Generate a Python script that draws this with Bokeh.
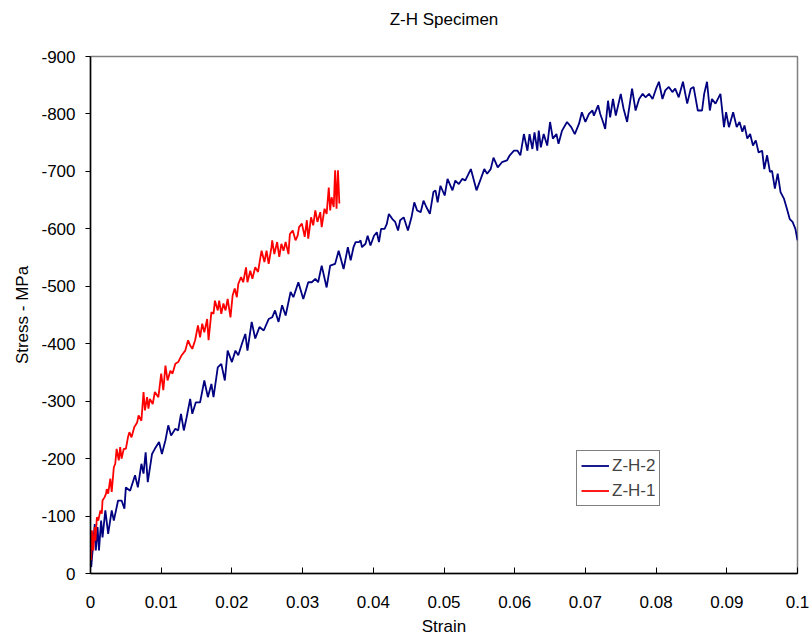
from bokeh.plotting import figure
from bokeh.models import Range1d, FixedTicker, CustomJSTickFormatter, LinearAxis
from bokeh.embed import file_html
from bokeh.resources import INLINE

# ---------------- data ----------------
strain_h2 = [0.0001, 0.0003, 0.0006, 0.00075, 0.001, 0.0012, 0.0015, 0.0017, 0.0021, 0.0025,
             0.003, 0.0033, 0.0039, 0.0044, 0.0048, 0.005, 0.0056, 0.0063, 0.0067, 0.0072,
             0.0075, 0.0078, 0.0081, 0.0087, 0.0091, 0.0097, 0.0101, 0.0106, 0.011, 0.0114,
             0.012, 0.0124, 0.0128, 0.0132, 0.0136, 0.0141, 0.0144, 0.0149, 0.0155, 0.0161,
             0.0166, 0.0171, 0.0174, 0.018, 0.0185, 0.019, 0.0194, 0.02, 0.0205, 0.0209,
             0.0215, 0.0219, 0.0222, 0.0228, 0.0233, 0.0239, 0.0245, 0.0252, 0.0257, 0.0261,
             0.0266, 0.0271, 0.0276, 0.0283, 0.0287, 0.0294, 0.0301, 0.0308, 0.0313, 0.0318,
             0.0322, 0.0327, 0.0334, 0.0339, 0.0346, 0.0351, 0.0358,
             0.0364, 0.0368, 0.0372, 0.0375, 0.038, 0.0382, 0.0384, 0.0389, 0.0392, 0.0396,
             0.0401, 0.0405, 0.0408, 0.0411, 0.0416, 0.0419, 0.0422, 0.0427, 0.0431, 0.0435,
             0.0438, 0.0443, 0.0449, 0.0454, 0.0458, 0.0462, 0.0467, 0.0471, 0.0475, 0.048,
             0.0485, 0.0488, 0.0491,
             0.0495, 0.0501, 0.0505, 0.0512, 0.0516, 0.0521, 0.0526, 0.053, 0.0538, 0.0546,
             0.0552, 0.0557, 0.0561, 0.0566, 0.057, 0.0576, 0.0582, 0.0589, 0.0593, 0.0599,
             0.0604, 0.0608, 0.0613, 0.0618, 0.0621, 0.0625, 0.0628, 0.0632, 0.0634, 0.0637,
             0.0641, 0.0646, 0.065, 0.0654, 0.0659, 0.0662, 0.0667, 0.0674, 0.068, 0.0685,
             0.0691, 0.0695, 0.07, 0.0705, 0.071, 0.0712, 0.0718, 0.0721,
             0.0725, 0.0728, 0.0732, 0.0735, 0.0739, 0.0743, 0.075, 0.0754, 0.0759, 0.0766,
             0.0771, 0.0776, 0.0781, 0.0785, 0.079, 0.0795, 0.08, 0.0804, 0.0809, 0.0813,
             0.0818, 0.0823, 0.0827, 0.0832, 0.0838, 0.0844, 0.0849, 0.0853, 0.0859, 0.0865,
             0.0868, 0.0872, 0.0876, 0.0879, 0.0884, 0.0891, 0.0896, 0.0899, 0.0903, 0.0909,
             0.0914, 0.0918, 0.0922, 0.0925, 0.0929, 0.0933, 0.0937, 0.0941, 0.0945, 0.095,
             0.0953, 0.0957, 0.0961, 0.0964, 0.0968, 0.0972, 0.0976, 0.0981, 0.0985, 0.0989,
             0.0993, 0.0997, 0.1]
stress_h2 = [-11, -40, -86, -40, -81, -40, -92, -63, -110, -69,
             -110, -92, -127, -127, -113, -150, -144, -171, -150, -191,
             -174, -211, -159, -208, -217, -229, -208, -232, -258, -240,
             -252, -249, -278, -249, -272, -304, -278, -298, -298, -336,
             -307, -330, -307, -359, -365, -336, -388, -368, -388, -380,
             -403, -417, -388, -438, -409, -429, -423, -443, -446, -458,
             -438, -467, -449, -490, -481, -507, -478, -507, -507, -513,
             -507, -536, -498, -536, -539, -562, -530,
             -568, -545, -568, -577, -577, -580, -568, -574, -588, -571,
             -588, -594, -577, -600, -600, -608, -626, -617, -612, -597,
             -615, -620, -597, -620, -646, -632, -629, -649, -638, -626,
             -664, -667, -646,
             -675, -658, -687, -667, -684, -678, -687, -684, -704, -667,
             -687, -704, -696, -704, -724, -707, -716, -719, -728, -736,
             -736, -728, -765, -736, -765, -739, -768, -736, -771, -742,
             -765, -745, -786, -757, -765, -748, -771, -786, -777, -765,
             -783, -803, -786, -800, -806, -797, -815, -800,
             -786, -774, -823, -794, -826, -797, -835, -809, -786, -844,
             -806, -826, -835, -829, -835, -826, -844, -856, -826, -841,
             -847, -838, -844, -829, -856, -818, -844, -847, -806, -806,
             -835, -856, -806, -826, -818, -835, -777, -803, -777, -803,
             -777, -786, -769, -780, -757, -765, -745, -754, -733, -736,
             -704, -728, -699, -701, -670, -696, -664, -652, -635, -617,
             -612, -600, -580]

strain_h1 = [0.0001, 0.0002, 0.0004, 0.0006, 0.0007, 0.0009, 0.0011, 0.0014, 0.0016, 0.0017,
             0.002, 0.0022, 0.0023, 0.0025, 0.0028, 0.003, 0.0033, 0.0035, 0.0037, 0.004,
             0.0042, 0.0044, 0.0047, 0.005, 0.0053, 0.0055, 0.0058, 0.0062, 0.0066, 0.0068,
             0.0072, 0.0075, 0.0077, 0.008, 0.0082, 0.0084, 0.0088, 0.0091, 0.0096, 0.01,
             0.0103, 0.0106, 0.0109, 0.0113, 0.0116, 0.012, 0.0124, 0.0129, 0.0134, 0.0138,
             0.0141, 0.0144, 0.0148, 0.0152, 0.0155, 0.0158, 0.0161, 0.0165, 0.0167, 0.0171,
             0.0174, 0.0176, 0.018, 0.0182, 0.0185, 0.0188, 0.0191, 0.0194, 0.0198, 0.0201,
             0.0204, 0.0207, 0.0209, 0.0213, 0.0216, 0.022, 0.0222, 0.0226, 0.0229, 0.0233,
             0.0237, 0.024, 0.0242, 0.0246, 0.0249, 0.0252, 0.0256, 0.0257, 0.026, 0.0264,
             0.0267, 0.027, 0.0273, 0.0276, 0.028, 0.0282, 0.0286, 0.029, 0.0293, 0.0295,
             0.0299, 0.0303, 0.0306, 0.0308, 0.0312, 0.0315, 0.0318, 0.0321, 0.0325, 0.0327,
             0.0331, 0.0334, 0.0337, 0.0339, 0.0341, 0.0344, 0.0346, 0.0348, 0.035, 0.0352]
stress_h1 = [-23, -75, -40, -81, -57, -98, -92, -110, -104, -127,
             -133, -139, -147, -139, -165, -142, -185, -191, -217, -197,
             -220, -200, -217, -217, -237, -246, -237, -255, -263, -275,
             -266, -316, -284, -307, -287, -304, -295, -316, -307, -348,
             -319, -362, -336, -353, -348, -365, -368, -380, -388, -406,
             -397, -391, -406, -432, -411, -435, -420, -443, -406, -455,
             -452, -475, -458, -475, -452, -470, -458, -478, -446, -484,
             -496, -481, -504, -516, -507, -533, -507, -527, -513, -533,
             -525, -548, -562, -542, -562, -539, -568, -580, -556, -577,
             -551, -574, -562, -577, -556, -591, -597, -580, -588, -603,
             -609, -586, -615, -583, -620, -606, -632, -612, -629, -603,
             -635, -626, -672, -632, -655, -638, -702, -635, -702, -644]

x_ticks = [0, 0.01, 0.02, 0.03, 0.04, 0.05, 0.06, 0.07, 0.08, 0.09, 0.1]
y_ticks = [0, -100, -200, -300, -400, -500, -600, -700, -800, -900]
title_text = "Z-H Specimen"

FONT = "Liberation Sans"

p = figure(width=811, height=641, output_backend="svg", toolbar_location=None,
           x_range=Range1d(0, 0.1), y_range=Range1d(0, -900),
           min_border_left=90, min_border_right=14, min_border_top=56, min_border_bottom=68)

p.xgrid.visible = False
p.ygrid.visible = False
p.outline_line_color = "#808080"
p.outline_line_width = 1.5
p.background_fill_color = "white"
p.border_fill_color = "white"

p.xaxis.ticker = FixedTicker(ticks=x_ticks)
p.yaxis.ticker = FixedTicker(ticks=y_ticks)
p.xaxis.formatter = CustomJSTickFormatter(code="""
var s = tick.toFixed(2).replace(/0+$/, '').replace(/\\.$/, '');
return s;""")
p.yaxis.formatter = CustomJSTickFormatter(code="return tick.toFixed(0);")

for ax in (p.xaxis, p.yaxis):
    ax.axis_line_color = "black"
    ax.axis_line_width = 1.5
    ax.major_tick_line_color = "black"
    ax.major_tick_line_width = 1
    ax.minor_tick_line_color = None
    ax.major_label_text_font = FONT
    ax.major_label_text_font_size = "17px"
    ax.major_label_text_color = "black"
    ax.axis_label_text_font = FONT
    ax.axis_label_text_font_size = "17px"
    ax.axis_label_text_font_style = "normal"
    ax.axis_label_text_color = "black"

p.xaxis.major_tick_in = 6
p.xaxis.major_tick_out = 0
p.xaxis.major_label_standoff = 22
p.xaxis.axis_label = "Strain"
p.xaxis.axis_label_standoff = 6

p.yaxis.major_tick_in = 0
p.yaxis.major_tick_out = 5
p.yaxis.major_label_standoff = 10
p.yaxis.axis_label = "Stress - MPa"
p.yaxis.axis_label_standoff = 6

# title drawn as the label of a tick-less axis above the frame
top_axis = LinearAxis(ticker=FixedTicker(ticks=[]), axis_label=title_text,
                      axis_line_color=None, major_tick_line_color=None,
                      minor_tick_line_color=None, major_tick_in=0, major_tick_out=0,
                      major_label_standoff=0, axis_label_standoff=28,
                      axis_label_text_font=FONT, axis_label_text_font_size="17px",
                      axis_label_text_font_style="normal", axis_label_text_color="black")
p.add_layout(top_axis, "above")

p.line(strain_h2, stress_h2, line_color="#000080", line_width=1.8, legend_label="Z-H-2")
p.line(strain_h1, stress_h1, line_color="#FF0000", line_width=1.8, legend_label="Z-H-1")

lg = p.legend[0]
lg.location = (486, 67)
lg.border_line_color = "black"
lg.border_line_width = 1
lg.background_fill_color = "white"
lg.background_fill_alpha = 1
lg.label_text_font = FONT
lg.label_text_font_size = "17px"
lg.glyph_width = 28
lg.glyph_height = 21
lg.label_height = 21
lg.label_standoff = 3
lg.padding = 4
lg.spacing = 4
lg.margin = 0

open("out.html", "w").write(file_html(p, INLINE))
